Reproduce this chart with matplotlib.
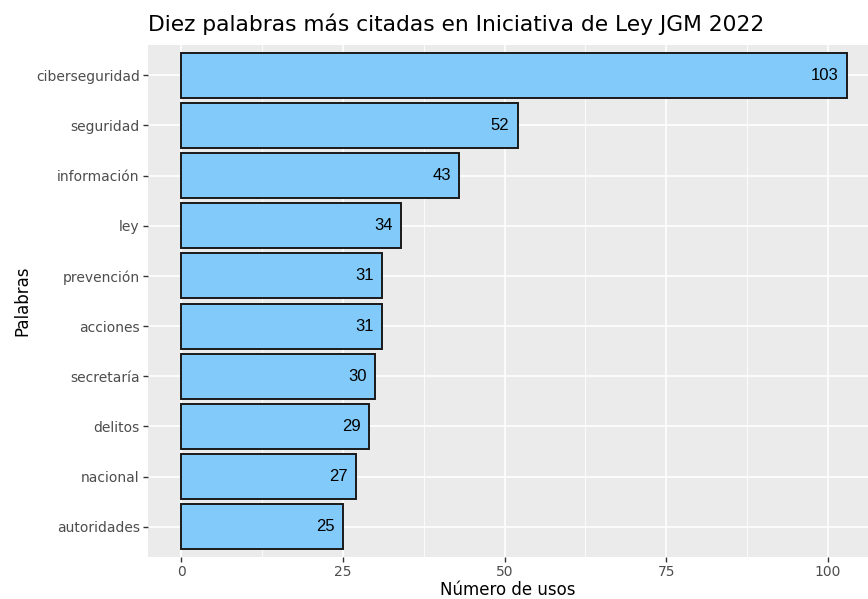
import matplotlib
matplotlib.use("Agg")
from matplotlib import pyplot as plt

palabras = ["ciberseguridad", "seguridad", "información", "ley", "prevención",
            "acciones", "secretaría", "delitos", "nacional", "autoridades"]
usos = [103, 52, 43, 34, 31, 31, 30, 29, 27, 25]
x_ticks = [0, 25, 50, 75, 100]

fig = plt.figure(figsize=(8.68, 5.99), dpi=100)
ax = fig.add_axes([148 / 868, 1 - 557 / 599, 1 - 148 / 868, (557 - 45) / 599])

ax.set_facecolor("#EBEBEB")
for s in ax.spines.values():
    s.set_visible(False)

# gridlines like ggplot2 theme_gray
for v in [12.5, 37.5, 62.5, 87.5]:
    ax.axvline(v, color="white", lw=0.6, zorder=0)
for v in x_ticks:
    ax.axvline(v, color="white", lw=1.2, zorder=0)

n = len(palabras)
ypos = list(range(n, 0, -1))
for y in ypos:
    ax.axhline(y, color="white", lw=1.2, zorder=0)

ax.barh(ypos, usos, height=0.9, color="#82CAF9", edgecolor="#1a1a1a",
        linewidth=1.4, zorder=2)

for y, v in zip(ypos, usos):
    ax.annotate(str(v), (v, y), xytext=(-6, 0), textcoords="offset points",
                ha="right", va="center", fontsize=12, color="black",
                family="Liberation Sans", zorder=3)

ax.set_xlim(-5.15, 106.2)
ax.set_ylim(0.4, n + 0.6)
ax.set_xticks(x_ticks)
ax.set_yticks(ypos)
ax.set_yticklabels(palabras)
ax.tick_params(axis="both", colors="#333333", length=3.5, width=1,
               labelcolor="#4D4D4D", labelsize=10, pad=2.5)

ax.set_xlabel("Número de usos", fontsize=12, labelpad=1)
ax.set_ylabel("Palabras", fontsize=12, labelpad=3)
ax.set_title("Diez palabras más citadas en Iniciativa de Ley JGM 2022",
             fontsize=15.7, loc="left", x=0.0, pad=10)

fig.savefig("out.png", dpi=100)
